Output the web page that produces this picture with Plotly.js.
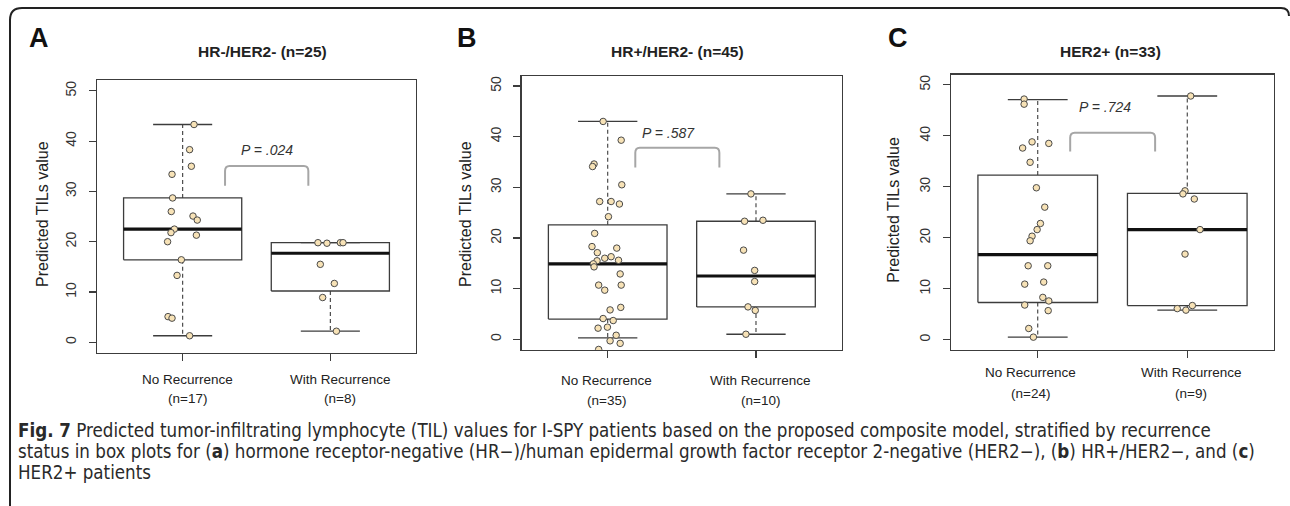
<!DOCTYPE html>
<html><head><meta charset="utf-8">
<script src="https://cdn.plot.ly/plotly-3.0.1.min.js"></script>
<style>html,body{margin:0;padding:0;background:#fff;} #chart{width:1290px;height:506px;}</style>
</head><body><div id="chart"></div>
<script>
const W = 1290, H = 506;

// ---------- data ----------
const panelLetters = ['A', 'B', 'C'];
const panelTitles = ['HR-/HER2- (n=25)', 'HR+/HER2- (n=45)', 'HER2+ (n=33)'];
const categories = ['No Recurrence', 'With Recurrence'];
const groupCounts = [[17, 8], [35, 10], [24, 9]];
const pLabels = ['P = .024', 'P = .587', 'P = .724'];
const yTickVals = [0, 10, 20, 30, 40, 50];
const yAxisTitle = 'Predicted TILs value';

// five-number summaries: [lower whisker, Q1, median, Q3, upper whisker]
const A_noRec_box   = [1.3, 16.4, 22.5, 28.7, 43.3];
const A_withRec_box = [2.2, 10.2, 17.7, 19.8, 19.8];
const B_noRec_box   = [0.3, 4.0, 14.9, 22.6, 43.0];
const B_withRec_box = [1.0, 6.4, 12.5, 23.3, 28.7];
const C_noRec_box   = [0.5, 7.3, 16.7, 32.3, 47.1];
const C_withRec_box = [5.8, 6.7, 21.6, 28.7, 47.8];

// individual patient values and their horizontal jitter (category units)
const A_noRec_values   = [43.3, 38.3, 35.0, 33.4, 28.7, 26.0, 25.1, 24.3, 22.5, 21.8, 21.3, 20.0, 16.4, 13.3, 5.1, 4.8, 1.3];
const A_noRec_jitter   = [0.077, 0.047, 0.059, -0.072, -0.068, -0.077, 0.070, 0.099, -0.056, -0.079, 0.093, -0.102, -0.009, -0.038, -0.099, -0.072, 0.047];
const A_withRec_values = [19.8, 19.7, 19.8, 19.8, 15.5, 11.7, 8.9, 2.2];
const A_withRec_jitter = [-0.084, -0.023, 0.068, 0.086, -0.068, 0.027, -0.052, 0.041];

const B_noRec_values   = [43.0, 39.3, 34.6, 34.1, 30.5, 27.2, 27.2, 26.7, 24.2, 20.9, 18.3, 18.0, 17.1, 16.0, 16.3, 15.5, 15.6, 14.9, 14.3, 12.9, 10.7, 10.7, 9.7, 6.3, 5.8, 4.1, 3.7, 2.2, 2.4, 0.8, -0.3, -0.8, -2.0];
const B_noRec_jitter   = [-0.031, 0.091, -0.092, -0.102, 0.095, -0.054, 0.023, 0.079, 0.005, -0.088, -0.106, 0.061, -0.070, -0.020, 0.023, -0.072, 0.073, -0.097, -0.092, 0.084, -0.061, 0.091, -0.020, 0.088, 0.016, -0.031, 0.037, -0.065, -0.002, 0.057, 0.016, 0.084, -0.061];
const B_withRec_values = [28.7, 23.3, 23.5, 17.6, 13.6, 11.4, 6.4, 5.7, 1.0];
const B_withRec_jitter = [-0.034, -0.077, 0.047, -0.084, -0.009, -0.009, -0.054, -0.005, -0.068];

const C_noRec_values   = [47.2, 46.2, 38.8, 38.5, 37.6, 34.8, 29.8, 26.0, 22.8, 21.6, 20.3, 19.4, 14.5, 14.5, 10.9, 11.3, 8.3, 7.6, 6.8, 5.7, 2.2, 0.5];
const C_noRec_jitter   = [-0.091, -0.091, -0.038, 0.074, -0.101, -0.051, -0.009, 0.047, 0.018, -0.004, -0.038, -0.051, -0.064, 0.067, -0.087, 0.040, 0.034, 0.074, -0.087, 0.070, -0.060, -0.029];
const C_withRec_values = [47.8, 29.2, 28.6, 27.6, 21.6, 16.8, 6.1, 5.8, 6.7];
const C_withRec_jitter = [0.023, -0.015, -0.029, 0.047, 0.085, -0.015, -0.067, -0.009, 0.034];

const captionLines = [
  '<b>Fig. 7</b> Predicted tumor-infiltrating lymphocyte (TIL) values for I-SPY patients based on the proposed composite model, stratified by recurrence',
  'status in box plots for (<b>a</b>) hormone receptor-negative (HR\u2212)/human epidermal growth factor receptor 2-negative (HER2\u2212), (<b>b</b>) HR+/HER2\u2212, and (<b>c</b>)',
  'HER2+ patients'
];

// ---------- layout geometry (pixels) ----------
const panels = [
  {box: [A_noRec_box, A_withRec_box], vals: [A_noRec_values, A_withRec_values], jit: [A_noRec_jitter, A_withRec_jitter],
   px: [97, 416], py: [80, 353], yr: [-2.13, 52.15], bracket: [1.287, 1.851, 35.05, 31.1], ptext: [1.569, 38.2],
   title: [262, 52], letter: [39, 38], ytitle: [42, 214], xl1: 379, xl2: 398, xlx: [187, 340]},
  {box: [B_noRec_box, B_withRec_box], vals: [B_noRec_values, B_withRec_values], jit: [B_noRec_jitter, B_withRec_jitter],
   px: [521.7, 842], py: [76, 350], yr: [-2.11, 51.97], bracket: [1.186, 1.753, 37.8, 33.9], ptext: [1.413, 40.7],
   title: [677.7, 51.7], letter: [466.7, 37.7], ytitle: [465, 214], xl1: 380.7, xl2: 400, xlx: [606, 760.7]},
  {box: [C_noRec_box, C_withRec_box], vals: [C_noRec_values, C_withRec_values], jit: [C_noRec_jitter, C_withRec_jitter],
   px: [951, 1274], py: [74.7, 350], yr: [-2.02, 51.98], bracket: [1.217, 1.785, 40.6, 36.9], ptext: [1.448, 45.6],
   title: [1110, 51.7], letter: [898, 37.7], ytitle: [892.7, 210], xl1: 372.7, xl2: 393.3, xlx: [1030.5, 1191]}
];

const FONT = 'Liberation Sans, Arial, Helvetica, sans-serif';
const LINE = '#3c3c3c';
const fx = x => x / W;
const fy = y => 1 - y / H;

const traces = [];
const shapes = [];
const annotations = [];
const layout = {
  width: W, height: H, margin: {l: 0, r: 0, t: 0, b: 0},
  paper_bgcolor: '#fff', plot_bgcolor: '#fff', showlegend: false,
  font: {family: FONT, color: '#222'}
};

panels.forEach((p, i) => {
  const n = i === 0 ? '' : String(i + 1);
  const xa = 'x' + n, ya = 'y' + n;
  layout['xaxis' + n] = {
    domain: [fx(p.px[0]), fx(p.px[1])], anchor: ya, range: [0.42, 2.58],
    showgrid: false, zeroline: false, showline: true, mirror: true, linecolor: LINE, linewidth: 1.3,
    tickvals: [1, 2], ticks: 'outside', ticklen: 7, tickwidth: 1.2, tickcolor: LINE, showticklabels: false, fixedrange: true
  };
  layout['yaxis' + n] = {
    domain: [fy(p.py[1]), fy(p.py[0])], anchor: xa, range: p.yr,
    showgrid: false, zeroline: false, showline: true, mirror: true, linecolor: LINE, linewidth: 1.3,
    tickvals: yTickVals, ticks: 'outside', ticklen: 7, tickwidth: 1.2, tickcolor: LINE,
    tickangle: -90, tickfont: {family: FONT, size: 14, color: '#333'}, ticklabelstandoff: 7, fixedrange: true
  };

  [0, 1].forEach(c => {
    const cx = c + 1;
    const [lw, q1, med, q3, uw] = p.box[c];
    traces.push({x: [cx - 0.4, cx + 0.4, cx + 0.4, cx - 0.4, cx - 0.4], y: [q1, q1, q3, q3, q1],
      xaxis: xa, yaxis: ya, mode: 'lines', line: {color: LINE, width: 1.3}, hoverinfo: 'skip'});
    traces.push({x: [cx, cx, null, cx, cx], y: [q3, uw, null, q1, lw],
      xaxis: xa, yaxis: ya, mode: 'lines', line: {color: LINE, width: 1.1, dash: '4px,3px'}, hoverinfo: 'skip'});
    traces.push({x: [cx - 0.2, cx + 0.2, null, cx - 0.2, cx + 0.2], y: [uw, uw, null, lw, lw],
      xaxis: xa, yaxis: ya, mode: 'lines', line: {color: LINE, width: 1.3}, hoverinfo: 'skip'});
    traces.push({x: [cx - 0.4, cx + 0.4], y: [med, med],
      xaxis: xa, yaxis: ya, mode: 'lines', line: {color: '#111', width: 3.2}, hoverinfo: 'skip'});
  });
  [0, 1].forEach(c => {
    const cx = c + 1;
    traces.push({x: p.jit[c].map(j => cx + j), y: p.vals[c], xaxis: xa, yaxis: ya, mode: 'markers',
      marker: {size: 6.5, color: '#f7e2b6', line: {color: '#4a4a4a', width: 1}}, hoverinfo: 'y'});
  });

  const [b0, b1, bt, bb] = p.bracket;
  const rx = 0.03, ry = 1.0;
  shapes.push({type: 'path', xref: xa, yref: ya,
    path: `M ${b0},${bb} L ${b0},${bt - ry} Q ${b0},${bt} ${b0 + rx},${bt} L ${b1 - rx},${bt} Q ${b1},${bt} ${b1},${bt - ry} L ${b1},${bb}`,
    line: {color: '#a6a6a6', width: 2}});
  annotations.push({xref: xa, yref: ya, x: p.ptext[0], y: p.ptext[1], text: pLabels[i], showarrow: false,
    font: {family: FONT, size: 14, color: '#333', style: 'italic'}, xanchor: 'center', yanchor: 'middle'});

  annotations.push({xref: 'paper', yref: 'paper', x: fx(p.title[0]), y: fy(p.title[1]), text: '<b>' + panelTitles[i] + '</b>',
    showarrow: false, font: {family: FONT, size: 15.5, color: '#222'}, xanchor: 'center', yanchor: 'middle'});
  annotations.push({xref: 'paper', yref: 'paper', x: fx(p.letter[0]), y: fy(p.letter[1]), text: '<b>' + panelLetters[i] + '</b>',
    showarrow: false, font: {family: FONT, size: 27, color: '#111'}, xanchor: 'center', yanchor: 'middle'});
  annotations.push({xref: 'paper', yref: 'paper', x: fx(p.ytitle[0]), y: fy(p.ytitle[1]), text: yAxisTitle, textangle: -90,
    showarrow: false, font: {family: FONT, size: 16, color: '#222'}, xanchor: 'center', yanchor: 'middle'});
  [0, 1].forEach(c => {
    annotations.push({xref: 'paper', yref: 'paper', x: fx(p.xlx[c]), y: fy(p.xl1), text: categories[c],
      showarrow: false, font: {family: FONT, size: 13.5, color: '#222'}, xanchor: 'center', yanchor: 'middle'});
    annotations.push({xref: 'paper', yref: 'paper', x: fx(p.xlx[c]), y: fy(p.xl2), text: '(n=' + groupCounts[i][c] + ')',
      showarrow: false, font: {family: FONT, size: 13.5, color: '#222'}, xanchor: 'center', yanchor: 'middle'});
  });
});

// caption
const capY = [430, 451, 472];
captionLines.forEach((t, k) => {
  annotations.push({xref: 'paper', yref: 'paper', x: fx(16), y: fy(capY[k]), text: t, showarrow: false,
    font: {family: 'Liberation Sans Narrow, DejaVu Sans Condensed, Roboto Condensed, Roboto, sans-serif', size: 18.6, color: '#2a2a2a'},
    xanchor: 'left', yanchor: 'middle'});
});

// outer frame with rounded corners
const framePts = `M ${fx(10)},${fy(506)} L ${fx(10)},${fy(20)} Q ${fx(10)},${fy(8)} ${fx(22)},${fy(8)} L ${fx(1281)},${fy(8)} Q ${fx(1289)},${fy(8)} ${fx(1289)},${fy(16)}`;
shapes.push({type: 'path', xref: 'paper', yref: 'paper', path: framePts, line: {color: '#222', width: 2}});

layout.shapes = shapes;
layout.annotations = annotations;

Plotly.newPlot('chart', traces, layout, {displayModeBar: false, staticPlot: true});
</script>
</body></html>
